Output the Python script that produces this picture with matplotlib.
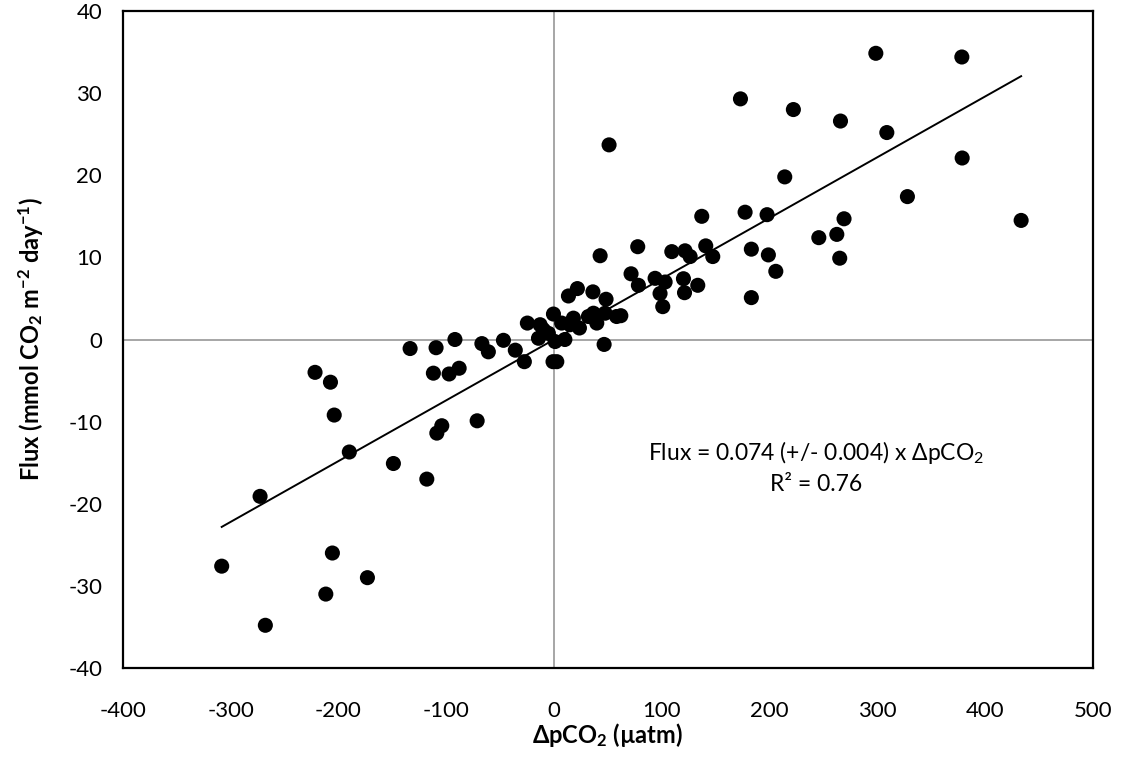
import numpy as np
import matplotlib

matplotlib.use("Agg")
import matplotlib.pyplot as plt

plt.rcParams["font.family"] = ["Lato", "DejaVu Sans"]
plt.rcParams["mathtext.fontset"] = "custom"
plt.rcParams["mathtext.rm"] = "Lato"
plt.rcParams["mathtext.bf"] = "Lato:bold"
plt.rcParams["mathtext.it"] = "Lato:italic"
plt.rcParams["axes.unicode_minus"] = False

# delta pCO2 (uatm) and flux (mmol CO2 m-2 day-1)
dpco2 = [
    -308.4, -267.9, -272.8, -211.8, -205.7, -173.2, -190.0, -221.8, -207.5, -204.0,
    -149.1, -118.1, -133.6, -109.5, -112.0, -97.4, -88.1, -104.2, -108.8, -71.4,
    -92.0, -67.0, -61.0, -47.0, -36.0, -27.6, -24.8,
    -13.0, -14.5, -10.0, -5.3, -0.6, 0.9, -1.0, 2.5, 7.0, 10.0, 14.8, 17.9, 23.5,
    31.8, 36.5, 39.6, 47.3, 58.0, 61.9, 46.4, 13.3, 21.6, 36.0, 48.2, 42.7, 51.0,
    71.4, 78.2, 77.6, 93.7, 103.0, 98.3, 100.8, 120.0, 121.0, 133.3, 109.2, 121.5,
    126.2, 140.7, 147.2, 137.0, 177.2, 197.6, 183.0, 198.8, 205.7, 183.0, 245.6,
    262.3, 269.0, 265.0, 214.0, 172.9, 222.0, 265.7, 298.5, 378.3, 308.7, 378.6,
    327.8, 433.3,
]
flux = [
    -27.6, -34.8, -19.1, -31.0, -26.0, -29.0, -13.7, -4.0, -5.2, -9.2,
    -15.1, -17.0, -1.1, -1.0, -4.1, -4.2, -3.5, -10.5, -11.4, -9.9,
    0.0, -0.5, -1.5, -0.1, -1.3, -2.7, 2.0,
    1.8, 0.15, 1.2, 0.75, 3.1, -0.25, -2.7, -2.7, 2.0, 0.0, 1.8, 2.6, 1.4,
    2.8, 3.2, 2.0, 3.2, 2.8, 2.9, -0.6, 5.3, 6.2, 5.8, 4.9, 10.2, 23.7,
    8.0, 6.6, 11.3, 7.45, 7.0, 5.6, 4.0, 7.4, 5.7, 6.6, 10.7, 10.8,
    10.1, 11.4, 10.1, 15.0, 15.5, 15.2, 11.0, 10.3, 8.3, 5.1, 12.4,
    12.8, 14.7, 9.9, 19.8, 29.3, 28.0, 26.6, 34.85, 34.4, 25.2, 22.1,
    17.4, 14.5,
]
slope = 0.074
x_ticks = list(range(-400, 501, 100))
y_ticks = list(range(-40, 41, 10))

fig = plt.figure(figsize=(11.23, 7.59), dpi=100)
ax = fig.add_axes([0.1095, 0.1199, 0.8638, 0.8656])

ax.axhline(0, color="#a6a6a6", lw=1.4, zorder=1)
ax.axvline(0, color="#a6a6a6", lw=1.4, zorder=1)

ax.scatter(dpco2, flux, s=118, color="black", edgecolors="none", zorder=3)

xs = np.array([min(dpco2), max(dpco2)])
ax.plot(xs, slope * xs, color="black", lw=1.4, zorder=4)

ax.set_xlim(-400, 500)
ax.set_ylim(-40, 40)
ax.set_xticks(x_ticks)
ax.set_yticks(y_ticks)
ax.tick_params(length=0, labelsize=16)
ax.tick_params(axis="x", pad=24)
ax.tick_params(axis="y", pad=15)
for sp in ax.spines.values():
    sp.set_color("black")
    sp.set_linewidth(1.6)

ax.set_xlabel(r"ΔpCO$_{\mathbf{2}}$ (µatm)", fontsize=17, fontweight="bold", labelpad=0)
ax.set_ylabel(r"Flux (mmol CO$_{\mathbf{2}}$ m$^{\mathbf{-2}}$ day$^{\mathbf{-1}}$)",
              fontsize=17, fontweight="bold", labelpad=17)

ax.text(243, -13.7, r"Flux = 0.074 (+/- 0.004) x ΔpCO$_2$", fontsize=16.5,
        ha="center", va="center")
ax.text(243, -17.6, r"R² = 0.76", fontsize=16.5, ha="center", va="center")

fig.savefig("out.png", dpi=100)
